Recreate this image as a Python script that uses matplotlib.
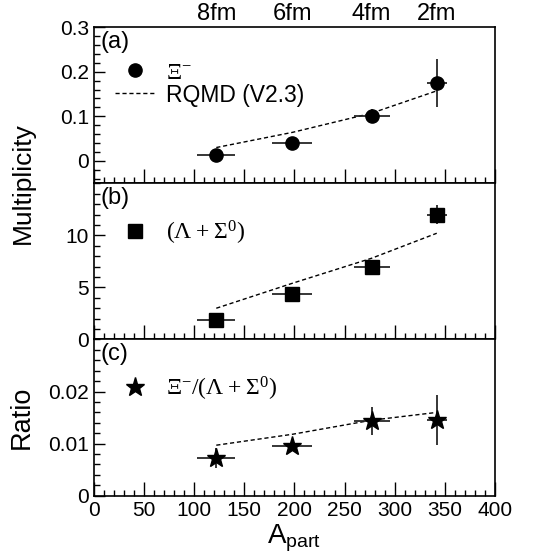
import matplotlib
matplotlib.use("Agg")
import matplotlib.pyplot as plt
from matplotlib.font_manager import FontProperties
from matplotlib.lines import Line2D
from matplotlib.ticker import MultipleLocator, FixedLocator, FixedFormatter
import matplotlib.transforms as mtransforms

plt.rcParams["font.family"] = ["Liberation Sans", "DejaVu Sans"]
plt.rcParams["mathtext.default"] = "regular"

# data
a_part = [122, 198, 277, 342]
a_part_err = [19, 20, 18, 10]
impact = ["8fm", "6fm", "4fm", "2fm"]

xi = [0.013, 0.041, 0.100, 0.175]
xi_err = [0.004, 0.006, 0.016, 0.054]
xi_rqmd = [0.030, 0.064, 0.107, 0.157]

lam = [1.83, 4.33, 6.95, 12.0]
lam_err = [0.15, 0.2, 0.3, 0.9]
lam_rqmd = [3.0, 5.4, 7.8, 10.2]

ratio = [0.0072, 0.0096, 0.0144, 0.0145]
ratio_err = [0.0019, 0.0008, 0.0027, 0.0048]
ratio_rqmd = [0.0097, 0.0118, 0.0145, 0.0160]

ylims = [(-0.05, 0.3), (0, 15), (0, 0.03)]
yticks = [[0, 0.1, 0.2, 0.3], [0, 5, 10], [0, 0.01, 0.02]]
yticklabels = [["0", "0.1", "0.2", "0.3"], ["0", "5", "10"], ["0", "0.01", "0.02"]]
yminor = [0.02, 1, 0.002]
panel_tags = ["(a)", "(b)", "(c)"]

fig = plt.figure(figsize=(5.45, 5.57), dpi=100)
left, right, bottom, top = 0.1725, 0.908, 0.110, 0.9515
h = (top - bottom) / 3
axes = [fig.add_axes([left, top - (i + 1) * h, right - left, h]) for i in range(3)]

series = [
    (xi, xi_err, xi_rqmd, "o", 9.5, r"$\Xi^{-}$"),
    (lam, lam_err, lam_rqmd, "s", 9.5, r"$(\Lambda + \Sigma^{0})$"),
    (ratio, ratio_err, ratio_rqmd, "*", 14, r"$\Xi^{-}/(\Lambda + \Sigma^{0})$"),
]

for i, ax in enumerate(axes):
    y, yerr, rqmd, mk, ms, lab = series[i]
    ax.errorbar(a_part, y, xerr=a_part_err, yerr=yerr, fmt=mk, ms=ms,
                color="black", ecolor="0.15", elinewidth=1.3, capsize=0,
                zorder=3)
    ax.plot(a_part, rqmd, color="black", lw=1.0, ls=(0, (3, 2)), zorder=2)

    ax.set_xlim(0, 400)
    ax.set_ylim(*ylims[i])
    ax.yaxis.set_major_locator(FixedLocator(yticks[i]))
    ax.yaxis.set_major_formatter(FixedFormatter(yticklabels[i]))
    ax.yaxis.set_minor_locator(MultipleLocator(yminor[i]))
    ax.xaxis.set_major_locator(MultipleLocator(50))
    ax.xaxis.set_minor_locator(MultipleLocator(10))
    ax.tick_params(which="both", direction="in", top=False, right=False,
                   labelsize=15, width=1)
    ax.tick_params(which="major", length=8)
    ax.tick_params(which="minor", length=4)
    ax.tick_params(axis="x", which="major", length=10)
    if i < 2:
        ax.tick_params(axis="x", labelbottom=False)
    for sp in ax.spines.values():
        sp.set_linewidth(1.2)

    ax.text(0.015, 0.975, panel_tags[i], transform=ax.transAxes,
            ha="left", va="top", fontsize=17)

    # legend: marker first, then the RQMD line on the top panel
    handles = [Line2D([], [], marker=mk, ms=ms, color="black", ls="none")]
    labels = [lab]
    if i == 0:
        handles.append(Line2D([], [], color="black", lw=1.0, ls=(0, (3, 2))))
        labels.append("RQMD (V2.3)")
    leg = ax.legend(handles, labels, loc="upper left",
                    bbox_to_anchor=(0.052, 0.775), frameon=False,
                    borderaxespad=0, borderpad=0, handlelength=1.7,
                    handletextpad=0.45, labelspacing=0.0,
                    prop=FontProperties(family="Liberation Serif", size=17))
    for t in leg.get_texts():
        if "RQMD" in t.get_text():
            t.set_fontfamily("Liberation Sans")
            t.set_fontsize(16.5)

# impact parameter labels above top panel
trans = mtransforms.blended_transform_factory(axes[0].transData, axes[0].transAxes)
for xv, s in zip(a_part, impact):
    axes[0].text(xv, 1.015, s, transform=trans, ha="center", va="bottom",
                 fontsize=17)

axes[0].set_ylabel("Multiplicity", fontsize=19)
axes[0].yaxis.set_label_coords(-0.148, 0.0)
axes[2].set_ylabel("Ratio", fontsize=19.5)
axes[2].yaxis.set_label_coords(-0.148, 0.5)
axes[2].set_xlabel("A$_{part}$", fontsize=20, labelpad=2)

fig.savefig("out.png", dpi=100)
